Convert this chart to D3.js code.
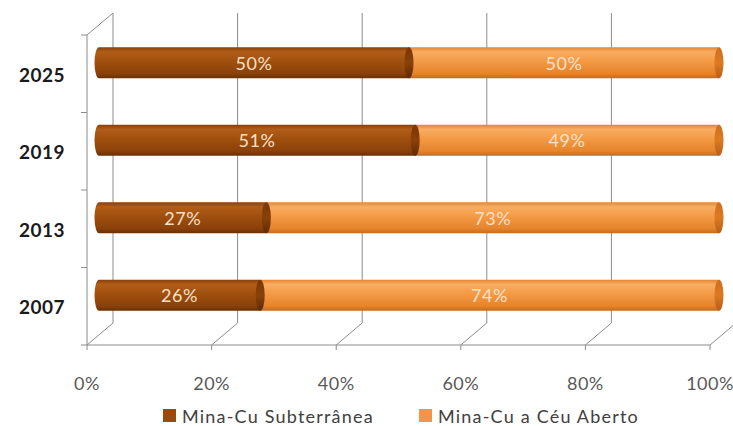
<!DOCTYPE html>
<html><head><meta charset="utf-8">
<script src="https://cdn.jsdelivr.net/npm/d3@7"></script>
<style>body{margin:0;background:#fff}svg{display:block}</style>
</head><body>
<script>
const categories = ["2025", "2019", "2013", "2007"];
const subterranea = [50, 51, 27, 26];
const ceuAberto = [50, 49, 73, 74];
const seriesNames = ["Mina-Cu Subterrânea", "Mina-Cu a Céu Aberto"];
const xTicks = [0, 20, 40, 60, 80, 100];

const W = 733, H = 426;
const svg = d3.select("body").append("svg").attr("width", W).attr("height", H);
const font = "Lato, 'Open Sans', sans-serif";

const x = d3.scaleLinear().domain([0, 100]).range([87, 710]);
const xBar = d3.scaleLinear().domain([0, 100]).range([99, 719]);
const y = d3.scaleBand().domain(categories).range([35, 345]).paddingInner(0.6).paddingOuter(0.3);
const yAxisBand = d3.scaleBand().domain(categories).range([35, 345]);
const DX = 26, DY = -22;

const defs = svg.append("defs");
function grad(id, stops) {
  const g = defs.append("linearGradient").attr("id", id).attr("x1", 0).attr("x2", 0).attr("y1", 0).attr("y2", 1);
  stops.forEach(s => g.append("stop").attr("offset", s[0]).attr("stop-color", s[1]));
}
grad("gBrown", [[0, "#8a3f08"], [0.15, "#b15d1a"], [0.45, "#a0500e"], [0.85, "#8a410a"], [1, "#6a3006"]]);
grad("gOrange", [[0, "#e6852c"], [0.15, "#f8ad62"], [0.45, "#f49a45"], [0.85, "#e5842c"], [1, "#c86a1c"]]);
grad("gBrownCap", [[0, "#7a3606"], [0.5, "#8a4109"], [1, "#5e2a04"]]);
grad("gOrangeCap", [[0, "#cf6f1c"], [0.5, "#dc7a24"], [1, "#b85e16"]]);

const grid = svg.append("g").attr("stroke", "#8c8c8c").attr("stroke-width", 1).attr("fill", "none");
const floorY = 345, topY = 35;
xTicks.forEach(t => {
  grid.append("line").attr("x1", x(t) + DX).attr("x2", x(t) + DX).attr("y1", topY + DY).attr("y2", floorY + DY);
  grid.append("line").attr("x1", x(t)).attr("y1", floorY).attr("x2", x(t) + DX).attr("y2", floorY + DY);
  grid.append("line").attr("x1", x(t)).attr("x2", x(t)).attr("y1", floorY).attr("y2", floorY + 5);
});
grid.append("line").attr("x1", x(0)).attr("x2", x(100)).attr("y1", floorY).attr("y2", floorY);
grid.append("line").attr("x1", x(0)).attr("x2", x(0)).attr("y1", topY).attr("y2", floorY);
grid.append("line").attr("x1", x(0)).attr("y1", topY).attr("x2", x(0) + DX).attr("y2", topY + DY);
categories.forEach(c => {
  grid.append("line").attr("x1", x(0) - 6).attr("x2", x(0)).attr("y1", yAxisBand(c)).attr("y2", yAxisBand(c));
});
grid.append("line").attr("x1", x(0) - 6).attr("x2", x(0)).attr("y1", floorY).attr("y2", floorY);

const hy = DY / 2;
const bh = y.bandwidth();
const rx = 4.5;
const bars = svg.append("g");
categories.forEach((c, i) => {
  const top = y(c) + hy, bot = top + bh, ry = bh / 2, cy = top + ry;
  const a = xBar(0), m = xBar(subterranea[i]), e = xBar(subterranea[i] + ceuAberto[i]);
  bars.append("path").attr("fill", "url(#gOrange)")
    .attr("d", `M${m},${top} L${e},${top} L${e},${bot} L${m},${bot} Z`);
  bars.append("ellipse").attr("cx", e).attr("cy", cy).attr("rx", rx).attr("ry", ry).attr("fill", "url(#gOrangeCap)");
  bars.append("path").attr("fill", "url(#gBrown)")
    .attr("d", `M${a},${top} L${m},${top} L${m},${bot} L${a},${bot} A${rx},${ry} 0 0 1 ${a},${top} Z`);
  bars.append("ellipse").attr("cx", m).attr("cy", cy).attr("rx", rx).attr("ry", ry).attr("fill", "url(#gBrownCap)");
  [[a, m, subterranea[i]], [m, e, ceuAberto[i]]].forEach(s => {
    bars.append("text").attr("x", (s[0] + s[1]) / 2).attr("y", cy + 7)
      .attr("text-anchor", "middle").attr("font-family", font).attr("font-size", 18)
      .attr("letter-spacing", 0.6)
      .attr("fill", "#fbe0c8").text(s[2] + "%");
  });
  svg.append("text").attr("x", 65).attr("y", yAxisBand(c) + yAxisBand.bandwidth() / 2 + 8)
    .attr("text-anchor", "end").attr("font-family", font).attr("font-weight", "bold")
    .attr("font-size", 19).attr("letter-spacing", 0.5).attr("fill", "#1a1a1a").text(c);
});

xTicks.forEach(t => {
  svg.append("text").attr("x", x(t)).attr("y", 390).attr("text-anchor", "middle")
    .attr("font-family", font).attr("font-size", 18).attr("letter-spacing", 0.5)
    .attr("fill", "#595959").text(t + "%");
});

const legendX = [163, 419];
const legendColors = ["#9c4a0c", "#f2954a"];
legendX.forEach((lx, i) => {
  svg.append("rect").attr("x", lx).attr("y", 409).attr("width", 13).attr("height", 13).attr("fill", legendColors[i]);
  svg.append("text").attr("x", lx + 19).attr("y", 423).attr("font-family", font).attr("font-size", 18)
    .attr("letter-spacing", 1.2).attr("fill", "#404040").text(seriesNames[i]);
});
</script>
</body></html>
